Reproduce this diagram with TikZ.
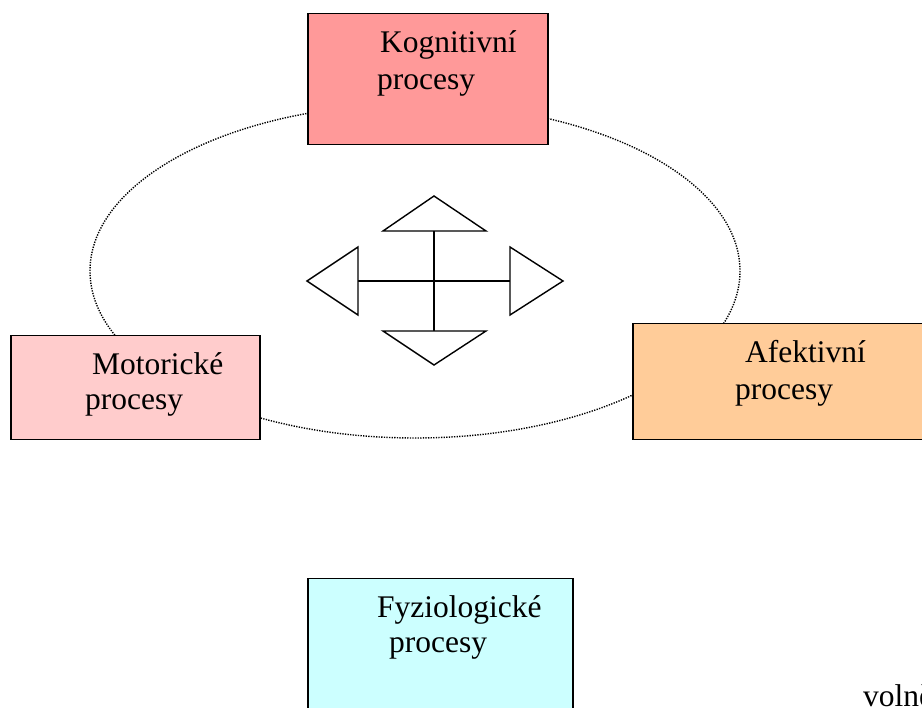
\documentclass[tikz,border=0pt]{standalone}
\usepackage{fontspec}
\setmainfont{Liberation Serif}
\begin{document}
\begin{tikzpicture}[x=1pt,y=-1pt,
  procbox/.style={draw=black,line width=1.5pt,rectangle,inner sep=0pt,anchor=north west},
  proclabel/.style={anchor=base west,inner sep=0pt,font=\fontsize{31.5}{37}\selectfont},
  orbit/.style={dash pattern=on 1.3pt off 1.3pt,line width=1.4pt},
  arrowhead/.style={draw=black,line width=1.4pt,fill=white,line join=miter},
  shaft/.style={draw=black,line width=2pt}]
\definecolor{kogfill}{HTML}{FF9999}
\definecolor{motfill}{HTML}{FFCCCC}
\definecolor{afefill}{HTML}{FFCC99}
\definecolor{fyzfill}{HTML}{CCFFFF}
\useasboundingbox (0,0) rectangle (922,708);
\fill[white] (0,0) rectangle (922,708);
\begin{scope}
\clip (0,0) rectangle (922,708);
% dotted orbit linking the three upper processes
\draw[orbit] (415,271) ellipse [x radius=325, y radius=167];

% process boxes
\node[procbox,fill=kogfill,minimum width=240pt,minimum height=131pt] (kog) at (307,13) {};
\node[procbox,fill=motfill,minimum width=249pt,minimum height=104pt] (mot) at (10,335) {};
\node[procbox,fill=afefill,minimum width=310pt,minimum height=116pt] (afe) at (632,323) {};
\node[procbox,fill=fyzfill,minimum width=265pt,minimum height=150pt] (fyz) at (307,578) {};

% box labels
\node[proclabel] (kog1) at (380,53) {Kognitivní};
\node[proclabel] (kog2) at (377,90) {procesy};
\node[proclabel] (mot1) at (92,375) {Motorické};
\node[proclabel] (mot2) at (85,410) {procesy};
\node[proclabel] (afe1) at (745,363) {Afektivní};
\node[proclabel] (afe2) at (735,400) {procesy};
\node[proclabel] (fyz1) at (377,618) {Fyziologické};
\node[proclabel] (fyz2) at (389,652) {procesy};
\node[proclabel] (voln) at (863,706) {volně};

% four-way arrow in the centre
\coordinate (c) at (434,281);
\coordinate (up) at (434,231);
\coordinate (dn) at (434,331);
\coordinate (lf) at (358,281);
\coordinate (rt) at (510,281);
\draw[shaft] (up) -- (dn);
\draw[shaft] (lf) -- (rt);
\draw[arrowhead] (383,231) -- (434,196) -- (486,231) -- cycle;
\draw[arrowhead] (383,331) -- (434,365) -- (486,331) -- cycle;
\draw[arrowhead] (358,247) -- (307,281) -- (358,315) -- cycle;
\draw[arrowhead] (510,247) -- (563,281) -- (510,315) -- cycle;
\end{scope}
\end{tikzpicture}
\end{document}
